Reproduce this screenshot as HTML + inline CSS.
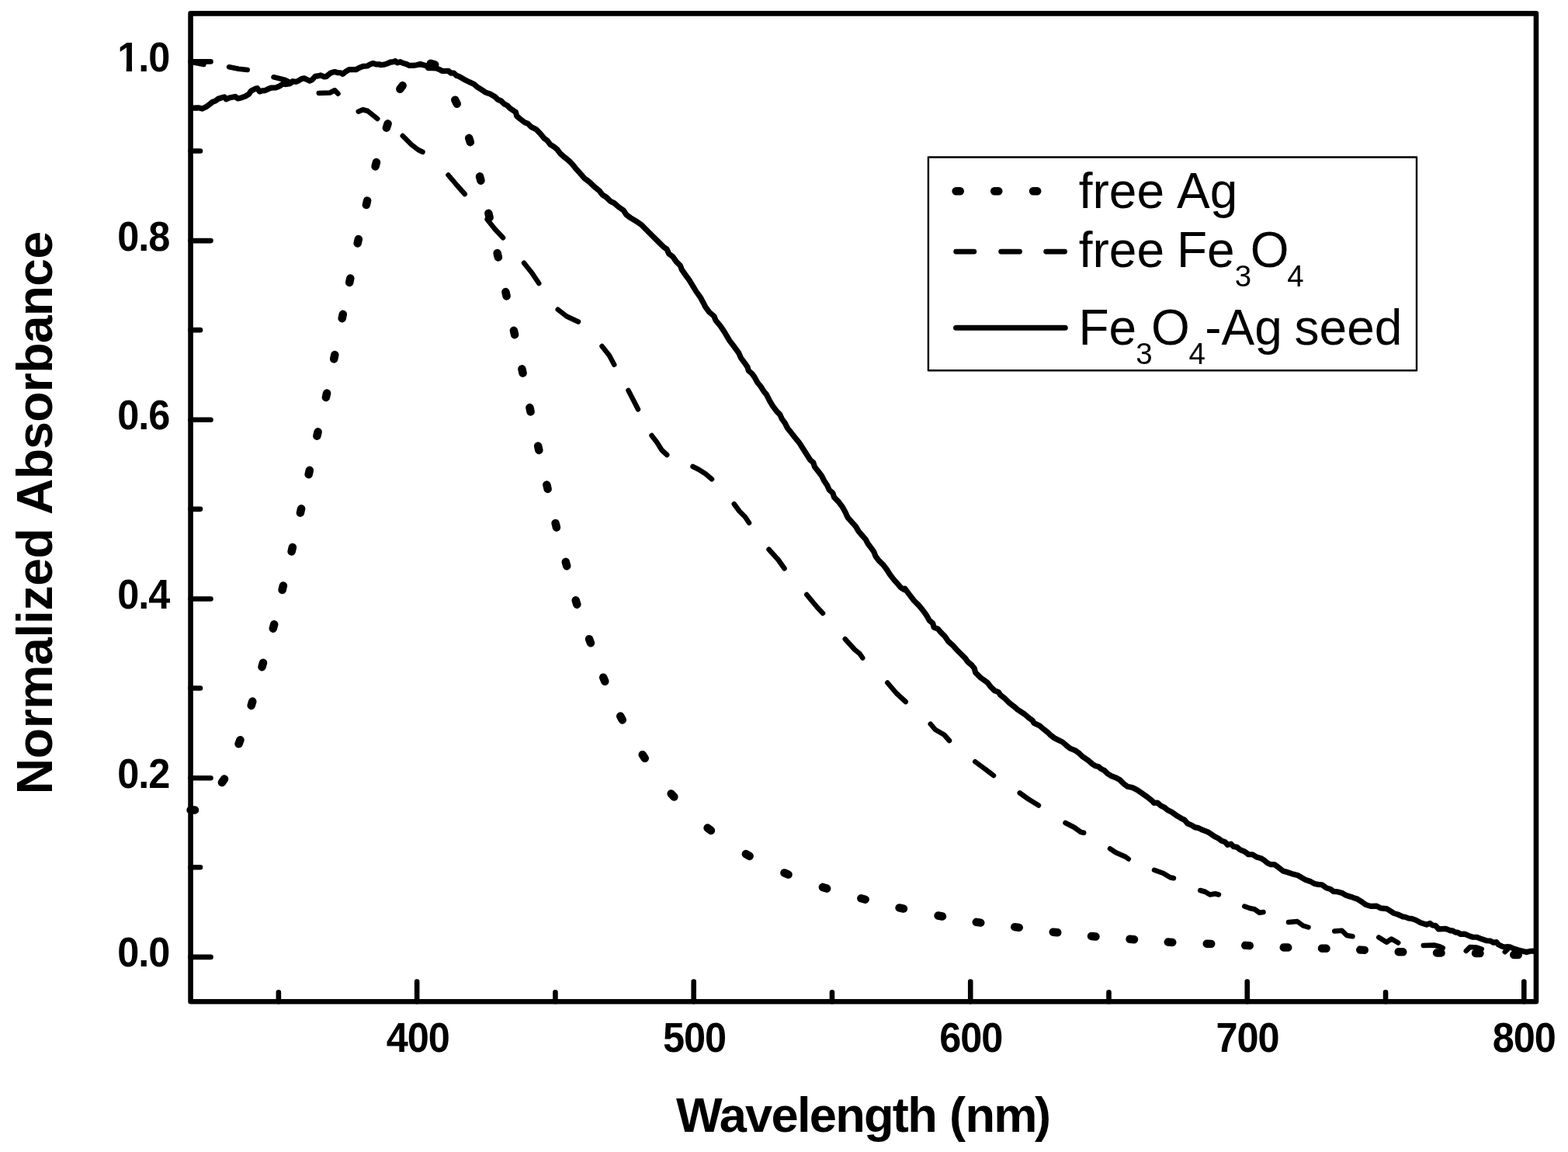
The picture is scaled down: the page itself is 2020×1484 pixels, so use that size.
<!DOCTYPE html>
<html lang="en"><head><meta charset="utf-8"><title>Normalized Absorbance vs Wavelength</title>
<style>html,body{margin:0;padding:0;background:#fff}body{width:2020px;height:1484px;overflow:hidden}svg{display:block}text{font-family:"Liberation Sans",sans-serif;fill:#000}.b{font-weight:bold}</style>
</head><body>
<svg width="2020" height="1484" viewBox="0 0 2020 1484">
<rect x="0" y="0" width="2020" height="1484" fill="#fff"/>
<g fill="none" stroke="#000" stroke-linecap="round" stroke-linejoin="round">
<path stroke-width="10.5" d="M245.55 1043.4L251.05 1043.4M285.94 1008.02L289.06 1003.48M307.54 958.33L309.46 953.17M323.71 908.88L325.29 903.62M337.5 859.15L339 853.85M351.8 809.66L353.2 804.34M363.61 759.92L364.89 754.58M375.62 710.43L376.88 705.07M386.9 660.68L388.1 655.32M397.67 611.19L398.83 605.81M408.4 561.68L409.6 556.32M419.91 511.94L421.09 506.56M430.2 462.44L431.3 457.06M440.7 410.2L441.8 404.8M450.19 363.94L451.31 358.56M460.67 313.44L461.83 308.06M471.88 263.93L473.12 258.57M483.55 214.41L484.95 209.09M497.89 164.61L499.61 159.39M515.37 114.71L518.63 110.29M554.84 81.79L560.16 83.21M586.3 128.78L588.7 133.72M604.17 177.88L605.83 183.12M618.06 227.34L619.44 232.66M629.39 274.82L630.61 280.18M640.67 326.06L641.83 331.44M651.43 376.06L652.57 381.44M661.93 425.81L663.07 431.19M672.44 475.31L673.56 480.69M682.44 525.06L683.56 530.44M693.16 574.56L694.34 579.94M704.39 624.57L705.61 629.93M715.59 674.08L716.91 679.42M728.8 723.84L730.2 729.16M741.69 773.37L743.31 778.63M759.07 823.16L760.93 828.34M777.21 872.7L779.29 877.8M799.24 922.55L801.76 927.45M827.73 972.21L830.77 976.79M864.66 1022.46L868.34 1026.54M911.6 1066.54L915.9 1069.96M960.87 1100.13L965.63 1102.87M1010.47 1124.42L1015.53 1126.58M1059.89 1142.89L1065.11 1144.61M1109.34 1157.29L1114.66 1158.71M1158.57 1169.4L1163.93 1170.6M1208.55 1179.5L1213.95 1180.5M1257.78 1187.85L1263.22 1188.65M1307.27 1194.15L1312.73 1194.85M1356.77 1200.68L1362.23 1201.32M1406.01 1206L1411.49 1206.5M1455.51 1209.79L1460.99 1210.21M1504.75 1213.59L1510.25 1213.91M1554.75 1215.63L1560.25 1215.87M1604.25 1217.87L1609.75 1218.13M1653.75 1220.4L1659.25 1220.6M1703 1221.66L1708.5 1221.84M1752.25 1223.62L1757.75 1223.88M1801.75 1226.15L1807.25 1226.35M1851 1227.45L1856.5 1227.55M1901 1227.93L1906.5 1228.07M1950.25 1229.89L1955.75 1230.11"/>
<path stroke-width="6.5" d="M248.75 80.5L262.5 83M295 86.25L307.5 88.75L318.75 90M352.5 99.25L367.5 103L372.5 105.5M410.75 120L425 119.5L431.25 116.25L435.5 120.75M461.75 143.75L467.5 141.25L473.75 143L486.25 153M518.75 175L530 186.25L538.75 193L544.5 195.75M577.5 225.5L588.75 238.75L598.75 250M627.5 282.5L637.5 295L648 306.25M675 338.75L685 351.25L694.25 365M718.75 398.75L730 407.5L745 414.5M775.5 446L785 458L791.25 469.75M809.5 503L816.25 516L822 527.25M839.5 561L846.25 569.75L852.5 579.75L859.25 586M892.5 601L900 604.75L908.75 610.25L917 617.25M945.75 649.25L952.5 658.5L960 666L965 673.5M990.5 707.75L1002.5 721L1010.5 732.25M1039.25 766L1052.5 782L1060 790M1088.75 823.25L1101.25 837L1107.5 842L1111.25 847.5M1143.25 879.5L1155 893.25L1166.75 904M1198.75 932.75L1205 940L1216.25 946.5L1223 954M1256.25 981.25L1267.5 989.5L1280 999M1313.75 1021.5L1325 1029.5L1338 1037.5M1372.5 1060L1383.75 1065.75L1392.5 1072L1396.25 1072.75M1430 1093.25L1437.5 1098.25L1450 1103.75L1453.75 1106.5M1487 1120.75L1498.75 1125L1507.5 1130.25L1512 1131.25M1546.25 1147L1552.5 1148.75L1558.75 1152.5L1565.5 1151.25L1570 1152.5M1603.25 1167.5L1610 1170L1616.25 1171.25L1622.5 1175.75L1627.5 1175M1660 1188L1671.25 1187L1678.75 1192.5L1685.5 1194.5M1719.25 1199.5L1728.75 1198.75L1735 1205L1742.5 1206.25M1776.25 1207.5L1786.25 1213.75L1792.5 1209.5L1801.25 1214.5M1833.75 1218L1847.5 1217.5L1855 1219.5L1858.75 1221.25M1888.75 1225L1893.75 1220L1902.5 1220.5L1908.75 1222.5M1938.75 1226.25L1943.75 1221.25"/>
<path stroke-width="7.2" d="M249.01 139.07L255.45 138.81L260.59 140.1L265.74 137.53L270.89 133.67L274.11 131.09L277.33 130.06L281.19 127.23L284.41 126.2L288.91 124.91L291.49 127.87L295.35 125.94L299.21 125.3L303.07 124.4L306.29 126.97L310.79 125.94L315.94 124.01L320.45 121.44L323.67 116.93L328.81 114.36L331.39 113.71L334.61 117.96L337.82 116.93L341.04 116.68L345.55 114.62L349.41 113.07L355.85 112.81L359.71 111.14L364.21 108.18L368.72 108.57L373.87 107.67L377.08 104.7L381.59 105.35L385.45 103.42L389.31 101.23L391.89 100.84L395.75 102.77L398.97 104.06L402.18 102.77L406.04 98.27L409.91 97.88L413.12 96.98L417.63 98.91L420.2 98.65L425.35 94.41L428.57 93.12L431.14 92.48L435.65 93.76L438.87 93.76L441.44 95.31L445.95 91.83L449.81 89.64L458.82 89.64L462.68 87.33L467.83 85.4L472.98 85.01L476.84 82.82L480.7 81.54L484.56 82.82L489.07 82.82L490 83.76L495.15 83.12L499.01 81.83L502.87 80.16L506.73 79.64L509.31 78.62L511.88 80.93L515.74 79.64L519.6 81.45L523.47 82.48L527.33 84.41L532.48 84.41L536.98 83.76L541.49 82.48L545.35 83.76L549.85 84.79L551.78 87.63L556.93 87.63L562.08 87.88L565.94 89.56L569.8 91.49L577.53 91.23L580.75 94.06L584.61 94.06L587.82 97.28L591.69 98.57L598.12 102.43L604.56 105.65L610.35 108.22L614.86 112.08L620 115.3L625.15 118.77L631.59 121.09L638.02 124.95L641.24 128.17L645.75 130.1L649.61 133.96L653.47 135.89L657.33 139.76L661.19 142.33L664.41 144.26L665.7 149.41L670.2 153.27L676 157.78L679.86 159.06L684.36 163.57L690.8 166.79L695.95 171.93L701.1 178.37L704.96 180.94L708.82 186.09L713.97 189.31L717.83 192.53L721.69 197.68L726.84 202.18L733.27 207.33L737.14 211.19L742.28 217.63L747.43 223.42L752.87 229.65L759.31 234.42L765.74 240.59L772.18 245.74L776.04 250.89L781.19 254.11L786.34 259.26L791.49 261.83L796.64 266.34L803.07 270.84L806.93 276.64L812.08 280.5L818.52 284.36L826.24 289.51L832.68 295.94L840.4 303.67L848.12 311.39L854.56 317.82L859.06 321.04L861.64 326.83L866.79 330.7L871.29 337.13L876.44 342.28L878.37 347.43L882.88 353.87L888.02 360.94L893.17 369.31L897.03 375.75L902.18 382.83L906.04 389.91L908.62 395.05L913.77 402.13L919.95 407.38L921.88 412.53L928.32 420.25L933.47 427.97L939.9 438.91L946.34 447.28L951.49 454.36L954.7 461.44L960.5 469.16L963.07 473.02L964.36 477.53L968.86 481.39L972.08 485.89L975.94 492.97L979.8 497.48L984.31 504.56L987.53 508.42L991.39 516.14L995.25 522.58L1000.4 529.66L1004.9 534.16L1007.48 539.95L1011.34 545.1L1014.56 551.54L1019.71 557.98L1024.86 564.41L1030 570.85L1035.8 579.99L1039.31 585.45L1043.81 592.53L1047.67 595.74L1049.6 601.54L1054.75 607.97L1058.62 613.12L1061.83 619.56L1065.69 625.35L1068.27 631.14L1072.77 635L1074.7 640.79L1080.5 646.59L1085.65 653.67L1088.86 659.46L1092.08 666.54L1097.23 672.33L1102.38 678.12L1106.24 684.56L1110.1 689.06L1115.25 694.86L1117.82 700L1121.69 705.15L1125.55 710.3L1128.12 716.74L1131.98 721.89L1138.42 728.32L1142.28 733.47L1146.79 740.55L1151.29 746.34L1156.44 752.13L1160.3 756.64L1165 759.75L1165.74 758.28L1170.89 765.1L1177.33 773.47L1183.76 779.9L1189.56 786.98L1194.06 793.42L1197.28 799.21L1201.78 803.07L1203.07 808.22L1208.22 810.15L1212.08 814.66L1217.23 819.8L1221.74 826.24L1227.53 831.39L1232.68 837.18L1237.82 842.33L1243.62 848.12L1246.83 852.63L1251.98 856.87L1255.2 860.99L1256.73 866.44L1263.17 872.87L1272.18 879.31L1276.04 884.46L1281.19 889.6L1286.34 891.54L1288.91 895.4L1294.06 899.26L1300.5 905.69L1305.65 909.56L1310.79 914.06L1319.8 919.85L1324.95 924.36L1330.1 928.22L1332.03 931.44L1339.11 934.66L1344.26 939.16L1349.41 943.02L1353.27 946.88L1358.42 950.75L1362.28 952.68L1368.72 955.89L1373.87 960.4L1379.01 964.26L1385.45 966.83L1390.6 970.7L1394.46 974.56L1402.18 979.71L1407.33 984.21L1411.19 986.79L1415.05 987.43L1418.92 990.65L1422.78 992.58L1426.64 996.44L1431.79 999.66L1436.94 1001.59L1442.09 1004.16L1447.23 1009.31L1452.38 1013.17L1458.82 1014.46L1465.25 1017.68L1471.69 1022.18L1478.13 1026.69L1484.56 1031.84L1486.49 1034.41L1491 1034.02L1495.15 1037.67L1500.3 1040.25L1504.16 1043.47L1509.31 1046.04L1515.74 1050.55L1522.18 1054.41L1526.04 1056.34L1529.9 1060.84L1535.05 1063.03L1538.91 1065.61L1544.06 1066.64L1549.21 1069.21L1555.65 1071.53L1559.51 1074.1L1564.66 1077.58L1569.8 1080.15L1573.67 1083.11L1578.17 1084.66L1581.39 1088.26L1585.89 1087.23L1589.11 1090.45L1593.62 1091.35L1598.12 1094.95L1603.27 1096.88L1608.42 1100.75L1613.57 1100.75L1618.72 1103.96L1625.15 1105.89L1629.01 1108.47L1632.88 1111.69L1636.74 1113.62L1641.89 1113.62L1647.03 1117.48L1652.83 1121.98L1657.33 1123.27L1663.77 1125.46L1671.49 1127.39L1676.64 1130.35L1681.79 1133.31L1688.22 1135.5L1693.37 1138.46L1698.52 1139.36L1703.03 1139.75L1708.82 1143.87L1713.97 1145.41L1717.83 1148.37L1722.98 1148.76L1729.41 1150.56L1734.56 1153.52L1741 1155.45L1745 1157L1747.72 1157.67L1754.16 1161.54L1759.31 1165.4L1765.74 1167.33L1773.47 1167.07L1778.62 1169.9L1786.34 1170.55L1791.49 1173.76L1795.35 1176.34L1800.5 1177.88L1806.93 1180.84L1810.15 1181.23L1814.66 1183.03L1818.52 1183.42L1823.67 1185.09L1830.1 1188.57L1837.82 1191.14L1842.33 1189.47L1845.55 1192.04L1849.41 1192.43L1853.27 1196.93L1862.28 1196.29L1868.72 1198.86L1871.29 1198.86L1875.15 1201.05L1877.73 1201.05L1881.59 1203.37L1886.74 1203.11L1891.89 1205.3L1897.03 1207.23L1902.18 1207.23L1907.33 1209.16L1915.05 1211.74L1920.2 1212.12L1924.06 1214.31L1927.93 1213.67L1930.5 1216.88L1934.36 1218.81L1938.22 1220.1L1942.09 1219.46L1945.95 1220.1L1949.81 1222.03L1956.24 1223.96L1961.39 1225.25L1966.54 1226.54L1971.69 1225.25L1976.2 1224.99L1977.5 1226.25"/>
</g>
<g fill="none" stroke="#000" stroke-linecap="round" stroke-linejoin="round">
<rect x="245.55" y="17.4" width="1733.4" height="1272.9" stroke-width="6.6"/>
<path stroke-width="6.6" d="M245.55 79.4H271.5M245.55 310.1H271.5M245.55 540.8H271.5M245.55 771.5H271.5M245.55 1002.2H271.5M245.55 1232.9H271.5M245.55 194.45H258M245.55 425.15H258M245.55 655.85H258M245.55 886.55H258M245.55 1117.25H258M537.15 1290.3V1264.5M893.69 1290.3V1264.5M1250.23 1290.3V1264.5M1606.77 1290.3V1264.5M1963.31 1290.3V1264.5M358.88 1290.3V1278.2M715.42 1290.3V1278.2M1071.96 1290.3V1278.2M1428.5 1290.3V1278.2M1785.04 1290.3V1278.2"/>
</g>
<g class="b" font-size="53" text-anchor="middle" letter-spacing="-1.1">
<text transform="translate(538.15 1355) scale(0.952 1)">400</text>
<text transform="translate(894.4 1355) scale(0.952 1)">500</text>
<text transform="translate(1250.65 1355) scale(0.952 1)">600</text>
<text transform="translate(1606.9 1355) scale(0.952 1)">700</text>
<text transform="translate(1963.15 1355) scale(0.952 1)">800</text>
</g>
<g class="b" font-size="53" text-anchor="end" letter-spacing="-1.1">
<text transform="translate(218.2 91.95) scale(0.952 1)">1.0</text>
<text transform="translate(218.2 322.65) scale(0.952 1)">0.8</text>
<text transform="translate(218.2 553.35) scale(0.952 1)">0.6</text>
<text transform="translate(218.2 784.05) scale(0.952 1)">0.4</text>
<text transform="translate(218.2 1014.75) scale(0.952 1)">0.2</text>
<text transform="translate(218.2 1245.45) scale(0.952 1)">0.0</text>
</g>
<path fill="#fff" d="M152 85.6h10.75v7.4h-10.75zM170.05 85.6h9v7.4h-9z"/>
<text class="b" font-size="63.2" letter-spacing="-1.73" x="871.1" y="1457.8">Wavelength <tspan dx="1">(</tspan><tspan dx="1.2">nm</tspan><tspan dx="-1.8">)</tspan></text>
<text class="b" font-size="64.3" xml:space="preserve" transform="translate(67.4 1023.3) rotate(-90)"><tspan letter-spacing="-0.38">Normalized </tspan><tspan letter-spacing="-0.71">Absorbance</tspan></text>
<rect x="1195.9" y="202.5" width="629.1" height="274.7" fill="#fff" stroke="#000" stroke-width="2.4" stroke-linejoin="round"/>
<g fill="none" stroke="#000" stroke-linecap="round">
<path stroke-width="10.5" d="M1231.6 246.2h5.2M1281.1 246.2h5.2M1331 246.2h5.2"/>
<path stroke-width="6.7" d="M1231.6 324.1h23.3M1289.6 324.1h24M1347.6 324.1h24"/>
<path stroke-width="7.1" d="M1231.6 422.2h140.6"/>
</g>
<g font-size="64" style="font-kerning:none">
<text xml:space="preserve"><tspan x="1389.7" y="267.8">free </tspan><tspan x="1516.1" y="267.8">Ag</tspan></text>
<text xml:space="preserve"><tspan x="1389.7" y="344.3">free </tspan><tspan x="1515.95" y="344.3">Fe</tspan><tspan x="1590.65" y="369.4" font-size="38.5">3</tspan><tspan x="1610.8" y="344.3">O</tspan><tspan x="1658.2" y="369.4" font-size="38.5">4</tspan></text>
<text xml:space="preserve"><tspan x="1389.4" y="444.3">Fe</tspan><tspan x="1463.2" y="469.4" font-size="38.5">3</tspan><tspan x="1483.1" y="444.3">O</tspan><tspan x="1531.6" y="469.4" font-size="38.5">4</tspan><tspan x="1552.2" y="444.3">-Ag </tspan><tspan x="1667.6" y="444.3">seed</tspan></text>
</g>
</svg>
</body></html>
